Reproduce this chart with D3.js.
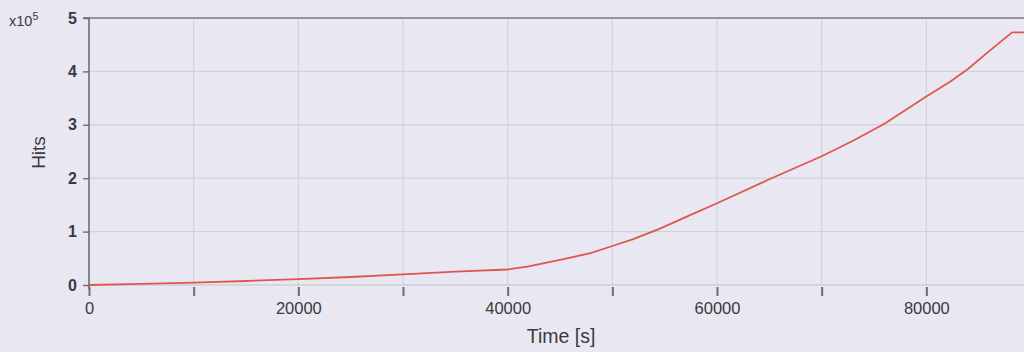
<!DOCTYPE html>
<html>
<head>
<meta charset="utf-8">
<script src="https://cdn.jsdelivr.net/npm/d3@7"></script>
<style>
  html, body { margin: 0; padding: 0; background: #e9e8f2; }
  svg { display: block; }
  text { font-family: "Liberation Sans", Arial, Helvetica, sans-serif; fill: #3a3a3e; }
</style>
</head>
<body>
<svg id="chart" width="1024" height="352"></svg>
<script>
// Cumulative hits over time (hits in units of 1e5)
const timeSeconds = [0, 5000, 10000, 15000, 20000, 25000, 30000, 35000, 40000, 42000, 45000, 48000,
                     50000, 52000, 54500, 57000, 60000, 65000, 70000, 73000, 76000, 80000, 82300,
                     84000, 86000, 88200, 90000];
const hitsE5 = [0, 0.02, 0.043, 0.075, 0.11, 0.15, 0.2, 0.25, 0.29, 0.35, 0.47, 0.6,
                0.73, 0.86, 1.05, 1.27, 1.53, 1.98, 2.41, 2.70, 3.02, 3.53, 3.81,
                4.05, 4.38, 4.73, 4.73];
const xTickValues = [0, 20000, 40000, 60000, 80000];
const xMinorTicks = [10000, 30000, 50000, 70000];
const yTickValues = [0, 1, 2, 3, 4, 5];

const svg = d3.select("#chart");
const x = d3.scaleLinear().domain([0, 90000]).range([89, 1031]);
const y = d3.scaleLinear().domain([0, 5]).range([285, 18]);

const gridColor = "#d2d2da";
const axisColor = "#6c6c72";

// Grid
const grid = svg.append("g");
grid.selectAll("line.v")
  .data(xTickValues.concat(xMinorTicks).filter(d => d > 0))
  .join("line")
  .attr("x1", d => x(d)).attr("x2", d => x(d))
  .attr("y1", y(5)).attr("y2", y(0))
  .attr("stroke", gridColor).attr("stroke-width", 1.2);
grid.selectAll("line.h")
  .data(yTickValues.filter(d => d > 0 && d < 5))
  .join("line")
  .attr("x1", x(0)).attr("x2", 1024)
  .attr("y1", d => y(d)).attr("y2", d => y(d))
  .attr("stroke", gridColor).attr("stroke-width", 1.2);
// Bottom border (light)
svg.append("line")
  .attr("x1", x(0)).attr("x2", 1024)
  .attr("y1", y(0)).attr("y2", y(0))
  .attr("stroke", "#c2c2ca").attr("stroke-width", 1.2);
// Top border
svg.append("line")
  .attr("x1", x(0)).attr("x2", 1024)
  .attr("y1", y(5)).attr("y2", y(5))
  .attr("stroke", "#7a7a80").attr("stroke-width", 1.6);

// Y axis
const yAxis = d3.axisLeft(y).tickValues(yTickValues).tickSize(6).tickPadding(6).tickFormat(d3.format("d"));
const gy = svg.append("g").attr("transform", `translate(${x(0)},0)`).call(yAxis);
gy.select(".domain").attr("stroke", axisColor).attr("stroke-width", 1.6).attr("d", `M-6,${y(5)}H0V${y(0) + 4}`);
gy.selectAll(".tick line").attr("stroke", axisColor).attr("stroke-width", 1.4);
gy.selectAll(".tick text").attr("font-size", 16).attr("font-weight", "bold").style("fill", "#3a3a3e")
  .attr("font-family", "Liberation Sans, Arial, sans-serif");

// X axis (ticks below the plot)
const xAxis = d3.axisBottom(x).tickValues(xTickValues.concat(xMinorTicks)).tickSize(9).tickPadding(6)
  .tickFormat(d => xTickValues.includes(d) ? d3.format("d")(d) : "");
const gx = svg.append("g").attr("transform", `translate(0,${y(0) + 2})`).call(xAxis);
gx.select(".domain").remove();
gx.selectAll(".tick line").attr("stroke", axisColor).attr("stroke-width", 2);
gx.selectAll(".tick text").attr("font-size", 16.5).style("fill", "#3a3a3e")
  .attr("font-family", "Liberation Sans, Arial, sans-serif");

// Exponent label
const expo = svg.append("text").attr("x", 9).attr("y", 26).attr("font-size", 14.5);
expo.append("tspan").text("x10");
expo.append("tspan").attr("dy", -6).attr("font-size", 10.5).text("5");

// Axis titles
svg.append("text")
  .attr("transform", `translate(45,${(y(0) + y(5)) / 2 + 1}) rotate(-90)`)
  .attr("text-anchor", "middle").attr("font-size", 19).text("Hits");
svg.append("text")
  .attr("x", 561).attr("y", 343)
  .attr("text-anchor", "middle").attr("font-size", 19.5).text("Time [s]");

// Data line
const line = d3.line().x((d, i) => x(timeSeconds[i])).y(d => y(d)).curve(d3.curveLinear);
svg.append("path")
  .datum(hitsE5)
  .attr("d", line)
  .attr("fill", "none")
  .attr("stroke", "#e0564f")
  .attr("stroke-width", 1.8);
</script>
</body>
</html>
